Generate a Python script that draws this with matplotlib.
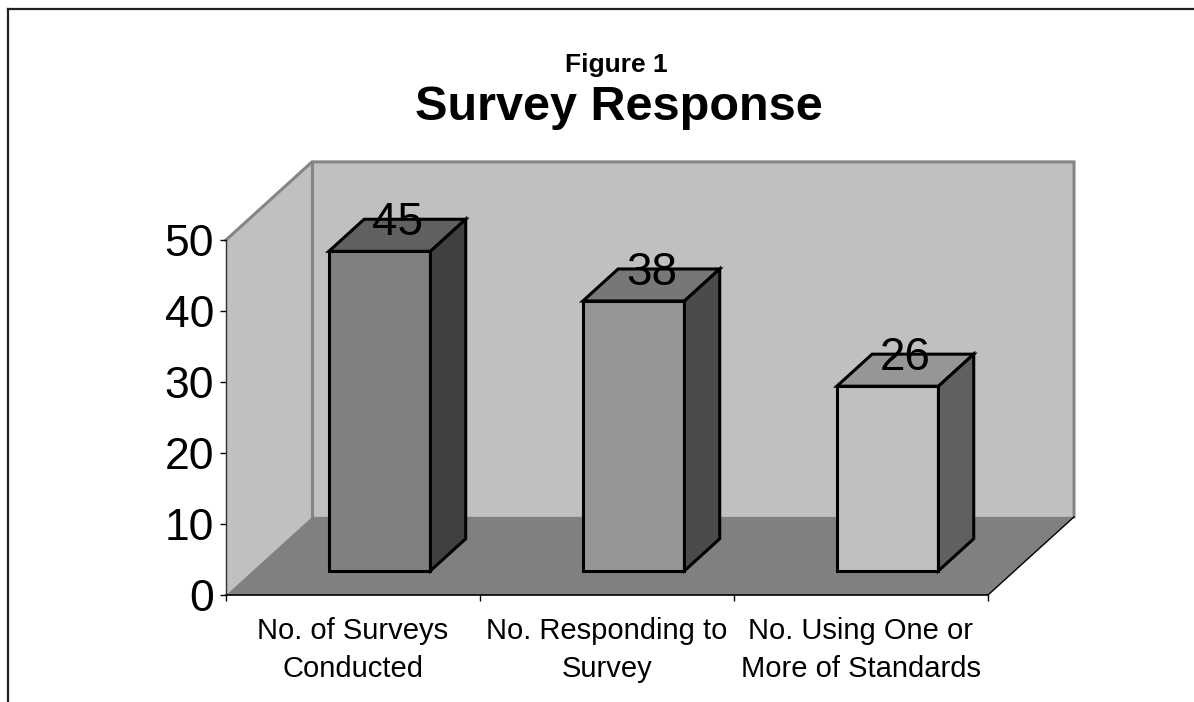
import matplotlib.pyplot as plt
from matplotlib.patches import Polygon
from matplotlib.lines import Line2D

# data
categories = ['No. of Surveys\nConducted', 'No. Responding to\nSurvey', 'No. Using One or\nMore of Standards']
values = [45, 38, 26]
yticks = [0, 10, 20, 30, 40, 50]

front_colors = ['#808080', '#969696', '#c0c0c0']
top_colors = ['#606060', '#777777', '#969696']
side_colors = ['#404040', '#4b4b4b', '#606060']

plt.rcParams['font.family'] = ['Liberation Sans', 'DejaVu Sans']

W, H = 1194, 702
fig = plt.figure(figsize=(W/100, H/100), dpi=100)
ax = fig.add_axes([226/W, 107/H, 762/W, 355/H])
ax.set_xlim(0, 3)
ax.set_ylim(0, 50)
ax.patch.set_visible(False)

# 3d depth of the plot box, in data units
ddx = 86/254
ddy = 11.0
ytop = yticks[-1]
xn = len(categories)

wall = '#c0c0c0'
edge = '#858585'
# side wall, back wall, floor
ax.add_patch(Polygon([(0, 0), (ddx, ddy), (ddx, ytop+ddy), (0, ytop)], closed=True,
                     facecolor=wall, edgecolor='none', clip_on=False, zorder=0))
ax.add_patch(Polygon([(ddx, ddy), (xn+ddx, ddy), (xn+ddx, ytop+ddy), (ddx, ytop+ddy)], closed=True,
                     facecolor=wall, edgecolor='none', clip_on=False, zorder=0))
ax.add_patch(Polygon([(0, 0), (xn, 0), (xn+ddx, ddy), (ddx, ddy)], closed=True,
                     facecolor='#808080', edgecolor='none', clip_on=False, zorder=0.5))
ax.plot([0, ddx, xn+ddx, xn+ddx], [ytop, ytop+ddy, ytop+ddy, ddy], color=edge, lw=2.2,
        clip_on=False, zorder=0.6, solid_joinstyle='miter')
ax.plot([ddx, ddx], [ddy, ytop+ddy], color=edge, lw=2.2, clip_on=False, zorder=0.4)
ax.plot([xn, xn+ddx], [0, ddy], color='black', lw=1, clip_on=False, zorder=0.6)

# bars
w = 0.4
t0, t1 = 0.31, 0.72
dt = t1 - t0
tm = (t0 + t1) / 2
for i, v in enumerate(values):
    cx = i + 0.5
    x0 = cx - w/2 + t0*ddx
    y0 = t0*ddy
    bx, by = dt*ddx, dt*ddy
    kw = dict(closed=True, edgecolor='black', lw=2.2, joinstyle='miter', clip_on=False, zorder=3)
    ax.add_patch(Polygon([(x0, y0), (x0+w, y0), (x0+w, y0+v), (x0, y0+v)], facecolor=front_colors[i], **kw))
    ax.add_patch(Polygon([(x0, y0+v), (x0+w, y0+v), (x0+w+bx, y0+v+by), (x0+bx, y0+v+by)], facecolor=top_colors[i], **kw))
    ax.add_patch(Polygon([(x0+w, y0), (x0+w+bx, y0+by), (x0+w+bx, y0+v+by), (x0+w, y0+v)], facecolor=side_colors[i], **kw))
    ax.text(cx + tm*ddx, v + tm*ddy, str(v), ha='center', va='baseline', fontsize=33, zorder=4)

# axes
for s in ['top', 'right']:
    ax.spines[s].set_visible(False)
ax.spines['left'].set_color('#303030')
ax.spines['left'].set_linewidth(1)
ax.spines['bottom'].set_color('black')
ax.spines['bottom'].set_linewidth(1.2)
ax.set_yticks(yticks)
ax.tick_params(axis='y', labelsize=32, length=4, width=1, pad=4.5, colors='black')
ax.set_xticks(range(xn + 1))
ax.set_xticklabels([])
ax.set_xticks([i + 0.5 for i in range(xn)], minor=True)
ax.set_xticklabels(categories, minor=True, fontsize=21, linespacing=1.48)
ax.tick_params(axis='x', which='major', length=4.5, width=1)
ax.tick_params(axis='x', which='minor', length=0, pad=15.5)

# titles
fig.text(616.5/W, 1 - 72/H, 'Figure 1', ha='center', va='baseline', fontsize=19, fontweight='bold')
fig.text(619/W, 1 - 120/H, 'Survey Response', ha='center', va='baseline', fontsize=35, fontweight='bold')

# chart area frame (top and left edges only visible)
fig.add_artist(Line2D([7.5/W, 7.5/W], [0, 1 - 8.5/H], color='#202020', lw=1.6))
fig.add_artist(Line2D([7.5/W, 1], [1 - 8.5/H, 1 - 8.5/H], color='#202020', lw=1.6))

fig.savefig('out.png', dpi=100)
